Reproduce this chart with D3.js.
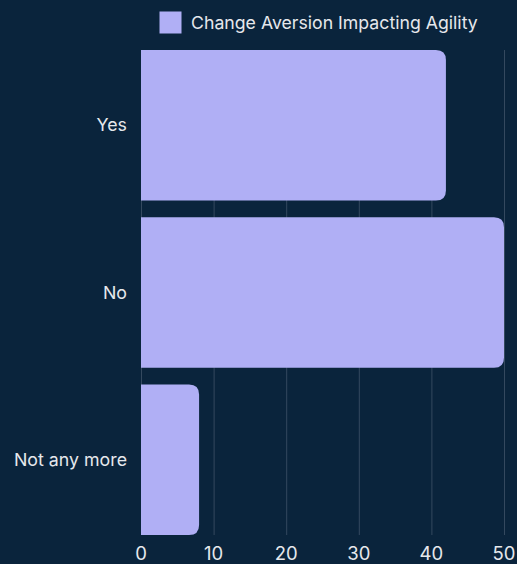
<!DOCTYPE html>
<html>
<head>
<meta charset="utf-8">
<script src="https://cdn.jsdelivr.net/npm/d3@7"></script>
<style>
  html, body { margin: 0; padding: 0; background: #0a243c; }
  svg { display: block; font-family: Inter, "Noto Sans", sans-serif; }
</style>
</head>
<body>
<svg id="chart" width="517" height="564"></svg>
<script>
const categories = ["Yes", "No", "Not any more"];
const values = [42, 50, 8];
const seriesName = "Change Aversion Impacting Agility";
const xTicks = [0, 10, 20, 30, 40, 50];

const W = 517, H = 564;
const margin = { top: 50, right: 13, bottom: 29, left: 141 };
const bg = "#0a243c";
const barColor = "#b0aff5";
const textColor = "#e6e8ec";
const gridColor = "#34495f";

const svg = d3.select("#chart");
svg.append("rect").attr("width", W).attr("height", H).attr("fill", bg);

const x = d3.scaleLinear().domain([0, 50]).range([margin.left, W - margin.right]);
const y = d3.scaleBand().domain(categories)
  .range([margin.top, H - margin.bottom]).paddingInner(0.1).paddingOuter(0);

// vertical grid lines
svg.append("g").selectAll("line").data(xTicks).join("line")
  .attr("x1", d => x(d) + 0.5).attr("x2", d => x(d) + 0.5)
  .attr("y1", margin.top).attr("y2", H - margin.bottom)
  .attr("stroke", gridColor).attr("stroke-width", 1);

// bars: flat on the left, rounded on the right
const r = 10;
function barPath(x0, x1, y0, h) {
  const rr = Math.min(r, (x1 - x0), h / 2);
  return `M${x0},${y0}H${x1 - rr}Q${x1},${y0} ${x1},${y0 + rr}V${y0 + h - rr}Q${x1},${y0 + h} ${x1 - rr},${y0 + h}H${x0}Z`;
}
svg.append("g").selectAll("path").data(categories).join("path")
  .attr("d", (c, i) => barPath(x(0), x(values[i]), y(c), y.bandwidth()))
  .attr("fill", barColor);

// x axis labels
svg.append("g").selectAll("text").data(xTicks).join("text")
  .attr("x", d => x(d)).attr("y", H - 4)
  .attr("text-anchor", "middle").attr("fill", textColor)
  .attr("font-size", 18.5).text(d => d);

// y axis labels
svg.append("g").selectAll("text").data(categories).join("text")
  .attr("x", margin.left - 14).attr("y", c => y(c) + y.bandwidth() / 2)
  .attr("dy", "0.35em").attr("text-anchor", "end").attr("fill", textColor)
  .attr("font-size", 17.8).text(c => c);

// legend
const lg = svg.append("g");
lg.append("rect").attr("x", 159.5).attr("y", 11.5).attr("width", 22).attr("height", 22)
  .attr("fill", barColor);
lg.append("text").attr("x", 191).attr("y", 22.5).attr("dy", "0.35em")
  .attr("fill", textColor).attr("font-size", 17.7).text(seriesName);
</script>
</body>
</html>
